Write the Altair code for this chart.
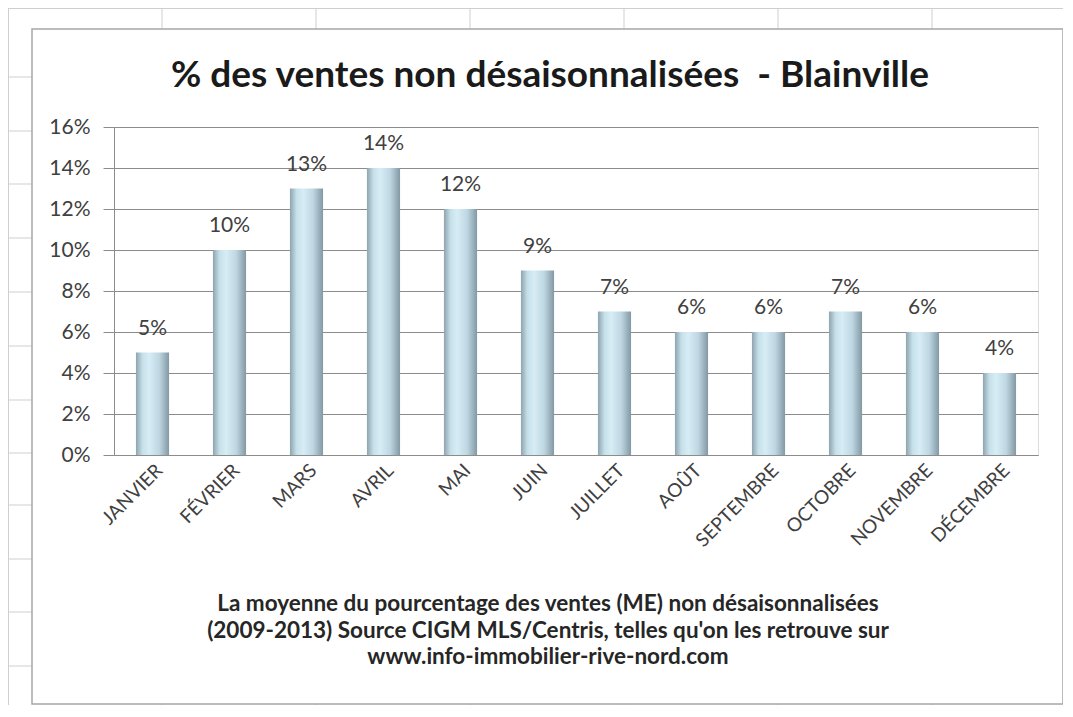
import altair as alt
import pandas as pd

months = ["JANVIER", "FÉVRIER", "MARS", "AVRIL", "MAI", "JUIN", "JUILLET",
          "AOÛT", "SEPTEMBRE", "OCTOBRE", "NOVEMBRE", "DÉCEMBRE"]
share_pct = [5, 10, 13, 14, 12, 9, 7, 6, 6, 7, 6, 4]
y_ticks = [0, 0.02, 0.04, 0.06, 0.08, 0.10, 0.12, 0.14, 0.16]

title_text = "% des ventes non désaisonnalisées \u00a0- Blainville"
note_lines = [
    "La moyenne du pourcentage des ventes (ME) non désaisonnalisées",
    "(2009-2013) Source CIGM MLS/Centris, telles qu'on les retrouve sur",
    "www.info-immobilier-rive-nord.com",
]

df = pd.DataFrame({"mois": months, "part": [v / 100 for v in share_pct]})

FONT = "Lato"
W, H = 924, 328
one = pd.DataFrame({"d": [0]})
base1 = alt.Chart(one)

# spreadsheet cell lines in the background (decoration)
col_x = [48, 202, 356, 510, 664, 818]
row_y = [-50, 4, 57, 111, 165, 219, 273, 326, 378, 432, 485, 539]
grid_col = "#cfcfcf"
deco = []
for cx in col_x:
    deco.append(base1.mark_rule(color=grid_col, strokeWidth=1).encode(
        x=alt.value(cx), y=alt.value(-119), y2=alt.value(-98)))
    deco.append(base1.mark_rule(color=grid_col, strokeWidth=1).encode(
        x=alt.value(cx), y=alt.value(577), y2=alt.value(585)))
for ry in row_y:
    deco.append(base1.mark_rule(color=grid_col, strokeWidth=1).encode(
        x=alt.value(-106), x2=alt.value(-82), y=alt.value(ry)))
deco.append(base1.mark_rule(color=grid_col, strokeWidth=1).encode(
    x=alt.value(-105.5), y=alt.value(-119), y2=alt.value(585)))
deco.append(base1.mark_rule(color=grid_col, strokeWidth=1).encode(
    x=alt.value(-106), x2=alt.value(951), y=alt.value(-118.5)))

box = base1.mark_rect(fill="white", fillOpacity=0, stroke="#a6a6a6", strokeWidth=1.5).encode(
    x=alt.value(-82), x2=alt.value(949), y=alt.value(-98), y2=alt.value(577))

bar_grad = alt.Gradient(
    gradient="linear", x1=0, x2=1, y1=0, y2=0,
    stops=[
        alt.GradientStop(color="#8ea4af", offset=0),
        alt.GradientStop(color="#c6e0ea", offset=0.2),
        alt.GradientStop(color="#d6edf5", offset=0.4),
        alt.GradientStop(color="#bfd7e2", offset=0.7),
        alt.GradientStop(color="#8299a4", offset=1),
    ],
)

x_enc = alt.X("mois:N", sort=months,
              scale=alt.Scale(paddingInner=0.57, paddingOuter=0.285),
              axis=alt.Axis(title=None, labelAngle=-45, labelAlign="right",
                            labelBaseline="middle", labelFont=FONT, labelFontSize=19,
                            labelColor="#404040", labelPadding=12, labelOffset=7,
                            ticks=False, domainColor="#8c8c8c", grid=False))
y_enc = alt.Y("part:Q", scale=alt.Scale(domain=[0, 0.16], nice=False),
              axis=alt.Axis(title=None, format=".0%", values=y_ticks,
                            labelFont=FONT, labelFontSize=21, labelColor="#404040",
                            labelPadding=13, tickSize=11, tickColor="#8c8c8c",
                            domainColor="#8c8c8c", gridColor="#8c8c8c", gridWidth=1))

bars = alt.Chart(df).mark_bar(color=bar_grad).encode(x=x_enc, y=y_enc)
vals = alt.Chart(df).mark_text(baseline="bottom", dy=-14, font=FONT, fontSize=21,
                               color="#404040").encode(
    x=alt.X("mois:N", sort=months), y="part:Q", text=alt.Text("part:Q", format=".0%"))

title = base1.mark_text(font=FONT, fontSize=37, fontWeight="bold", color="#1a1a1a",
                        baseline="middle", align="center").encode(
    x=alt.value(436), y=alt.value(-51), text=alt.value(title_text))

notes = []
for i, line in enumerate(note_lines):
    notes.append(base1.mark_text(font=FONT, fontSize=22.5, fontWeight="bold", color="#262626",
                                 baseline="middle", align="center").encode(
        x=alt.value(434), y=alt.value(477 + 26.5 * i), text=alt.value(line)))

chart = alt.layer(*deco, box, bars, vals, title, *notes).properties(
    width=W, height=H,
    autosize=alt.AutoSizeParams(type="none"),
    padding={"left": 106, "top": 119, "right": 25, "bottom": 250},
).configure_view(stroke=None).configure(background="white")

chart.save("out.html", embed_options={"renderer": "svg", "actions": False})
